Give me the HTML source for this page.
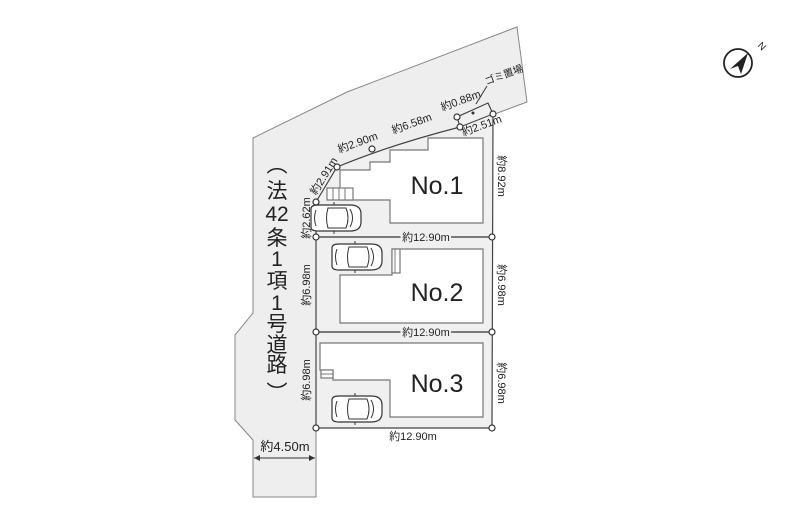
<!DOCTYPE html>
<html><head><meta charset="utf-8"><style>
html,body{margin:0;padding:0;background:#fff;}
svg{display:block;font-family:"Liberation Sans","Noto Sans CJK JP",sans-serif;}
</style></head><body>
<svg width="800" height="531" viewBox="0 0 800 531" xmlns="http://www.w3.org/2000/svg">
<defs>
<g id="car">
<path d="M-25,-9 Q-25,-13 -18,-13 L14,-13 Q25,-13 25,-4 L25,4 Q25,13 14,13 L-18,13 Q-25,13 -25,9 Z" fill="#fff" stroke="#333" stroke-width="1.2"/>
<path d="M-8,-10 L10,-10 Q14,0 10,10 L-8,10 Q-11,0 -8,-10Z" fill="#fff" stroke="#333" stroke-width="1"/>
<path d="M-20,-8 Q-23,0 -20,8" fill="none" stroke="#333"/>
<path d="M14,-9 Q19,0 14,9" fill="none" stroke="#333"/>
<line x1="-2" y1="-13" x2="-2" y2="-16" stroke="#333"/><line x1="-2" y1="13" x2="-2" y2="16" stroke="#333"/>
</g>
</defs>
<path d="M253,138 L347,92 L517,27 L527,102 L460,127 Q390,145 337,167 L316,202 L316,497 L253,497 L253,440 L235,420 L235,335 L253,313 Z" fill="#eeeeee" stroke="#888" stroke-width="1"/>
<path d="M316,202 L337,167 Q390,145 460,127 L457,117 L488,103 L493,114 L492,428 L316,428 Z" fill="#f0f0f0" stroke="#444" stroke-width="1.2"/>
<path d="M460,127 L493,114" stroke="#444" fill="none"/>
<circle cx="473" cy="113" r="1.5" fill="#333"/>
<g fill="#fff" stroke="#777" stroke-width="1.2">
<polygon points="340,170 370,170 370,162 390,162 390,150 428,150 428,138 483,138 483,223 390,223 390,200 340,200"/>
<polygon points="392,249 483,249 483,323 340,323 340,275 392,275"/>
<polygon points="320,343 483,343 483,417 390,417 390,380 333,380 333,370 320,370"/>
<rect x="327" y="188" width="26" height="12"/>
<rect x="392" y="249" width="8" height="24"/>
<rect x="321" y="370" width="12" height="8"/>
</g>
<g stroke="#777" stroke-width="1"><line x1="333" y1="188" x2="333" y2="200"/><line x1="339" y1="188" x2="339" y2="200"/><line x1="345" y1="188" x2="345" y2="200"/>
<line x1="395" y1="249" x2="395" y2="273"/><line x1="321" y1="374" x2="333" y2="374"/></g>
<use href="#car" transform="translate(336,218)"/>
<use href="#car" transform="translate(357,257)"/>
<use href="#car" transform="translate(357,409)"/>
<g stroke="#333" stroke-width="1.2" fill="#fff">
<line x1="316" y1="237" x2="492" y2="237"/><line x1="316" y1="332" x2="492" y2="332"/>
<circle cx="316" cy="202" r="3"/><circle cx="316" cy="237" r="3"/><circle cx="316" cy="332" r="3"/><circle cx="316" cy="428" r="3"/>
<circle cx="492" cy="237" r="3"/><circle cx="492" cy="332" r="3"/><circle cx="492" cy="428" r="3"/><circle cx="493" cy="114" r="3"/>
<circle cx="337" cy="167" r="3"/><circle cx="372" cy="149" r="3"/><circle cx="457" cy="117" r="3"/><circle cx="460" cy="127" r="3"/>
</g>
<line x1="487" y1="86" x2="476" y2="104" stroke="#333"/>
<g fill="#222" font-size="11">
<text x="426" y="241" text-anchor="middle" style="paint-order:stroke" stroke="#f0f0f0" stroke-width="4">約12.90m</text>
<text x="426" y="336" text-anchor="middle" style="paint-order:stroke" stroke="#f0f0f0" stroke-width="4">約12.90m</text>
<text x="413" y="440" text-anchor="middle">約12.90m</text>
<text transform="translate(310,218) rotate(-90)" text-anchor="middle">約2.62m</text>
<text transform="translate(310,285) rotate(-90)" text-anchor="middle">約6.98m</text>
<text transform="translate(310,380) rotate(-90)" text-anchor="middle">約6.98m</text>
<text transform="translate(498,176) rotate(90)" text-anchor="middle">約8.92m</text>
<text transform="translate(498,285) rotate(90)" text-anchor="middle">約6.98m</text>
<text transform="translate(498,383) rotate(90)" text-anchor="middle">約6.98m</text>
<text transform="translate(327,178) rotate(-58)" text-anchor="middle">約2.91m</text>
<text transform="translate(359,146) rotate(-20)" text-anchor="middle">約2.90m</text>
<text transform="translate(413,127) rotate(-20)" text-anchor="middle">約6.58m</text>
<text transform="translate(462,104) rotate(-20)" text-anchor="middle">約0.88m</text>
<text transform="translate(483,129) rotate(-20)" text-anchor="middle">約2.51m</text>
<text transform="translate(505,78) rotate(-20)" text-anchor="middle" font-size="10">ゴミ置場</text>
<text x="285" y="451" text-anchor="middle" font-size="13">約4.50m</text>
</g>
<line x1="254" y1="458" x2="315" y2="458" stroke="#333"/>
<path d="M254,458 l6,-3 v6z M315,458 l-6,-3 v6z" fill="#333"/>
<g fill="#222" font-size="25" text-anchor="middle">
<text x="437" y="194">No.1</text>
<text x="437" y="301">No.2</text>
<text x="437" y="392">No.3</text>
</g>
<g fill="#222" font-size="21" text-anchor="middle">
<text x="277" y="172">︵</text>
<text x="277" y="198">法</text>
<text x="277" y="221">42</text>
<text x="277" y="245">条</text>
<text x="277" y="266">1</text>
<text x="277" y="288">項</text>
<text x="277" y="310">1</text>
<text x="277" y="331">号</text>
<text x="277" y="352">道</text>
<text x="277" y="372">路</text>
<text x="277" y="400">︶</text>
</g>
<circle cx="738" cy="63" r="14" fill="#fff" stroke="#222" stroke-width="1.8"/>
<path d="M748,53 L741,74 L738,66 L730,69 Z" fill="#222"/>
<text x="757" y="46" font-size="10" fill="#222" transform="rotate(45 757 46)">N</text>
</svg>
</body></html>
